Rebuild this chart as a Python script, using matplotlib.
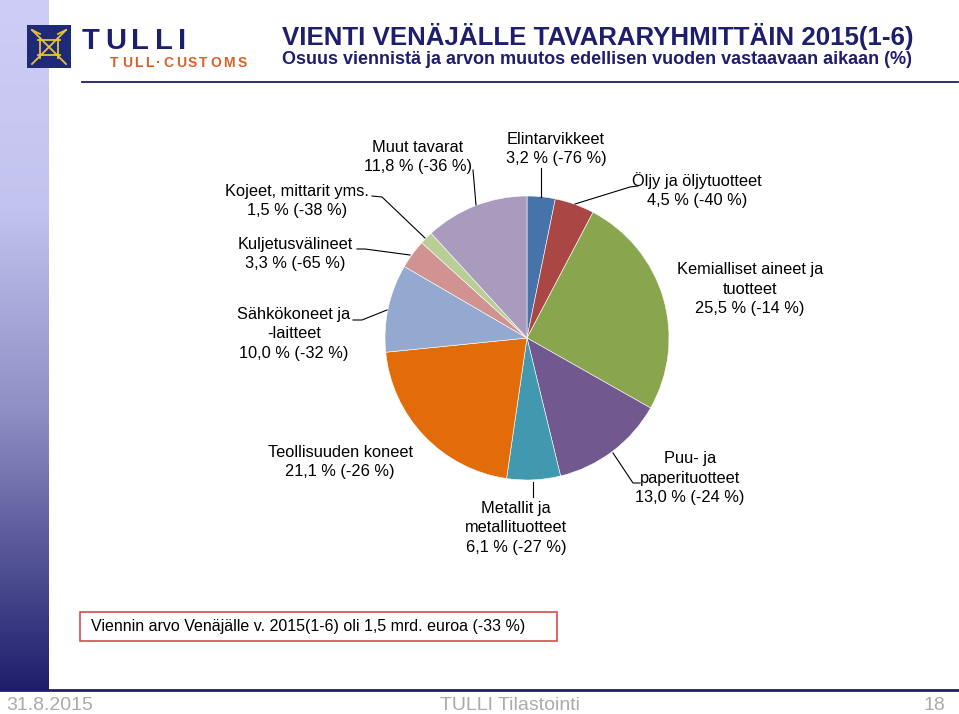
import numpy as np
import matplotlib
matplotlib.use("Agg")
import matplotlib.pyplot as plt
from matplotlib.colors import LinearSegmentedColormap
from matplotlib.patches import Rectangle

# Osuudet viennistä (%) ja muutos edelliseen vuoteen (%)
ryhmat = ["Elintarvikkeet", "Öljy ja öljytuotteet", "Kemialliset aineet ja\ntuotteet",
          "Puu- ja\npaperituotteet", "Metallit ja\nmetallituotteet", "Teollisuuden koneet",
          "Sähkökoneet ja\n-laitteet", "Kuljetusvälineet", "Kojeet, mittarit yms.", "Muut tavarat"]
osuus = [3.2, 4.5, 25.5, 13.0, 6.1, 21.1, 10.0, 3.3, 1.5, 11.8]
muutos = [-76, -40, -14, -24, -27, -26, -32, -65, -38, -36]
varit = ["#4573AA", "#AA4643", "#89A54E", "#71588F", "#4198AF", "#E36C0A",
         "#93A9D0", "#D09392", "#B9CD96", "#A99BBD"]

W, H = 959, 714
def py(y):
    # pikselin y (ylhäältä) -> akselin y
    return H - y

navy = "#1E1E6E"
fontti = ["Liberation Sans", "DejaVu Sans"]
fig = plt.figure(figsize=(W / 100, H / 100), dpi=100)
ax = fig.add_axes([0, 0, 1, 1])

# Piirakka
ax.pie(osuus, colors=varit, startangle=90, counterclock=False,
       center=(527, py(338)), radius=142,
       wedgeprops=dict(edgecolor="white", linewidth=0.4))

# Vasen liukuväripalkki
cmap = LinearSegmentedColormap.from_list("bar", [(0, "#CDCDF7"), (0.3, "#C3C3EF"),
                                                 (0.6, "#8E8EC4"), (1, "#1E1E6C")])
grad = np.linspace(0, 1, 256).reshape(-1, 1)
ax.imshow(grad, extent=(0, 49, py(690), py(0)), aspect="auto", cmap=cmap, zorder=0)

# Logo
ax.add_patch(Rectangle((27, py(68)), 44, 43, facecolor="#1E2A78", zorder=2))
gold = "#E8C23A"
for (x1, y1, x2, y2) in [(32, 30, 66, 64), (66, 30, 32, 64), (38, 40, 60, 40), (38, 55, 60, 55),
                         (40, 38, 40, 58), (58, 38, 58, 58), (32, 30, 40, 34), (66, 30, 58, 34)]:
    ax.plot([x1, x2], [py(y1), py(y2)], color=gold, lw=1.3, zorder=3)
for kirjain, x in zip("TULLI", [82, 105, 131, 155, 178]):
    ax.text(x, py(41), kirjain, fontsize=21, fontweight="bold", color=navy,
            family=fontti, va="center", ha="left")
for kirjain, x in zip("TULL·CUSTOMS", [110, 122, 134, 145, 156, 163, 176, 188, 199, 210, 223, 238]):
    ax.text(x, py(63), kirjain, fontsize=10, fontweight="bold", color="#D9602A",
            family=fontti, va="center", ha="left")

# Otsikot
ax.text(282, py(45), "VIENTI VENÄJÄLLE TAVARARYHMITTÄIN 2015(1-6)", fontsize=18.6,
        fontweight="bold", color=navy, family=fontti, va="baseline", ha="left")
ax.text(282, py(64), "Osuus viennistä ja arvon muutos edellisen vuoden vastaavaan aikaan (%)",
        fontsize=13, fontweight="bold", color=navy, family=fontti, va="baseline", ha="left")
ax.plot([82, 958], [py(82), py(82)], color=navy, lw=1.3)

# Tunnisteet
paikat = [(556, 149), (697, 190), (750, 289), (690, 478), (516, 528),
          (340, 462), (294, 334), (295, 254), (297, 201), (418, 157)]
for nimi, o, m, (x, y) in zip(ryhmat, osuus, muutos, paikat):
    teksti = "%s\n%s %% (%d %%)" % (nimi, ("%.1f" % o).replace(".", ","), m)
    ax.text(x, py(y), teksti, fontsize=11.8, ha="center", va="center",
            family=fontti, linespacing=1.35)

# Viivat
viivat = [[(541, 168), (541, 197)],
          [(638, 186), (630, 187), (575, 204)],
          [(613, 453), (633, 483), (640, 483)],
          [(533, 482), (533, 497)],
          [(353, 320), (362, 320), (387, 310)],
          [(357, 249), (365, 249), (410, 255)],
          [(372, 196), (382, 197), (425, 238)],
          [(473, 170), (476, 205)]]
for v in viivat:
    xs = [p[0] for p in v]
    ys = [py(p[1]) for p in v]
    ax.plot(xs, ys, color="black", lw=0.8)

# Laatikko
ax.add_patch(Rectangle((80, py(641)), 477, 29, facecolor="white", edgecolor="#D94B4B", lw=1.2))
ax.text(91, py(627), "Viennin arvo Venäjälle v. 2015(1-6) oli 1,5 mrd. euroa (-33 %)",
        fontsize=11.5, va="center", ha="left", family=fontti)

# Alapalkki
ax.plot([0, W], [py(690), py(690)], color=navy, lw=2)
ax.text(6, py(706), "31.8.2015", fontsize=14, color="#ABABAB", va="center", ha="left",
        family=fontti)
ax.text(510, py(706), "TULLI Tilastointi", fontsize=14, color="#ABABAB", va="center",
        ha="center", family=fontti)
ax.text(945, py(706), "18", fontsize=14, color="#ABABAB", va="center", ha="right",
        family=fontti)

ax.set_xlim(0, W)
ax.set_ylim(0, H)
ax.axis("off")
fig.savefig("out.png", dpi=100)
